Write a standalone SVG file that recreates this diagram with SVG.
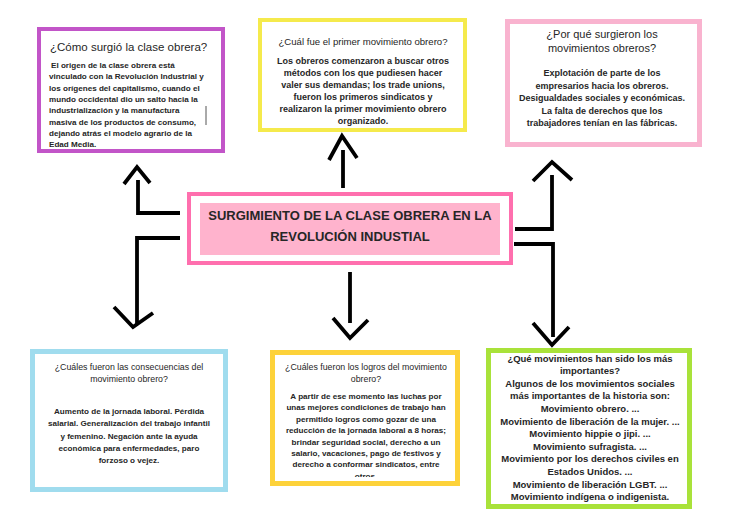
<svg xmlns="http://www.w3.org/2000/svg" width="733" height="528" viewBox="0 0 733 528">
<defs>
<style>
.box{fill:#fff;}
.t{font-family:"Liberation Sans",Arial,sans-serif;fill:#262626;}
.reg{font-weight:normal;}
.b{font-weight:bold;}
.c{text-anchor:middle;}
.arr{fill:none;stroke:#000;stroke-width:3.8;stroke-linejoin:miter;stroke-linecap:butt;}
</style>
<clipPath id="clipOtros"><rect x="270" y="350" width="190" height="127"/></clipPath>
</defs>
<rect width="733" height="528" fill="#fff"/>

<g id="connectors">
<path class="arr" d="M180,213 H138 V180"/>
<path class="arr" d="M124,184 L137,167 L150,183"/>
<path class="arr" d="M180,238 H137 V324"/>
<path class="arr" d="M114,307 L133,327 L153,313"/>
<path class="arr" d="M343,188 V150"/>
<path class="arr" d="M329,160 L342,136 L357,158"/>
<path class="arr" d="M350,272 V323"/>
<path class="arr" d="M333,318 L350,338 L368,320"/>
<path class="arr" d="M515,229 H552 V175"/>
<path class="arr" d="M533,181 L552,162 L572,180"/>
<path class="arr" d="M514,244 H553 V337"/>
<path class="arr" d="M533,323 L552,345 L569,327"/>
</g>

<g id="n-como">
<rect class="box" x="39" y="29" width="184" height="122" stroke="#c255c8" stroke-width="4"/>
<text class="t reg" x="50" y="51" font-size="11.5">¿Cómo surgió la clase obrera?</text>
<g class="t b" font-size="8.1">
<text x="51" y="68">El origen de la clase obrera está</text>
<text x="49" y="79.3">vinculado con la Revolución Industrial y</text>
<text x="49" y="90.6">los orígenes del capitalismo, cuando el</text>
<text x="49" y="101.9">mundo occidental dio un salto hacia la</text>
<text x="49" y="113.2">industrialización y la manufactura</text>
<text x="49" y="124.5">masiva de los productos de consumo,</text>
<text x="49" y="135.8">dejando atrás el modelo agrario de la</text>
<text x="49" y="147">Edad Media.</text>
</g>
<line x1="206" y1="106" x2="206" y2="125" stroke="#555" stroke-width="1"/>
</g>

<g id="n-primer">
<rect class="box" x="260" y="20" width="205" height="110" stroke="#f5ea4c" stroke-width="4"/>
<text class="t reg c" x="363" y="44.5" font-size="9.6">¿Cuál fue el primer movimiento obrero?</text>
<g class="t b c" font-size="9">
<text x="363" y="64">Los obreros comenzaron a buscar otros</text>
<text x="363" y="76">métodos con los que pudiesen hacer</text>
<text x="363" y="88">valer sus demandas; los trade unions,</text>
<text x="363" y="100">fueron los primeros sindicatos y</text>
<text x="363" y="112">realizaron la primer movimiento obrero</text>
<text x="363" y="124">organizado.</text>
</g>
</g>

<g id="n-porque">
<rect class="box" x="507.5" y="21.5" width="192" height="123" stroke="#f9b3cf" stroke-width="5"/>
<text class="t reg c" x="602" y="37.5" font-size="11">¿Por qué surgieron los</text>
<text class="t reg c" x="602" y="52" font-size="11">movimientos obreros?</text>
<g class="t b c" font-size="9">
<text x="602" y="76">Explotación de parte de los</text>
<text x="602" y="88.5">empresarios hacia los obreros.</text>
<text x="602" y="101">Desigualdades sociales y económicas.</text>
<text x="602" y="113.5">La falta de derechos que los</text>
<text x="602" y="126">trabajadores tenían en las fábricas.</text>
</g>
</g>

<g id="n-centro">
<rect class="box" x="189" y="194" width="322" height="69" stroke="#ff6fae" stroke-width="4"/>
<rect x="200" y="203" width="300" height="52" fill="#ffb3cd"/>
<text class="t b c" x="350" y="219.5" font-size="13" fill="#333">SURGIMIENTO DE LA CLASE OBRERA EN LA</text>
<text class="t b c" x="350" y="240.5" font-size="13" fill="#333">REVOLUCIÓN INDUSTIAL</text>
</g>

<g id="n-consecuencias">
<rect class="box" x="32.5" y="351.5" width="193" height="138" stroke="#a0dcee" stroke-width="5"/>
<text class="t reg c" x="129" y="370" font-size="8.8">¿Cuáles fueron las consecuencias del</text>
<text class="t reg c" x="129" y="382" font-size="8.8">movimiento obrero?</text>
<g class="t b c" font-size="8.1">
<text x="129" y="414">Aumento de la jornada laboral. Pérdida</text>
<text x="129" y="426.3">salarial. Generalización del trabajo infantil</text>
<text x="129" y="438.6">y femenino. Negación ante la ayuda</text>
<text x="129" y="450.9">económica para enfermedades, paro</text>
<text x="129" y="463.2">forzoso o vejez.</text>
</g>
</g>

<g id="n-logros">
<rect class="box" x="272.5" y="352.5" width="185" height="131" stroke="#fdd23a" stroke-width="5"/>
<text class="t reg c" x="366" y="369.5" font-size="8.8">¿Cuáles fueron los logros del movimiento</text>
<text class="t reg c" x="366" y="381.5" font-size="8.8">obrero?</text>
<g class="t b c" font-size="8.1">
<text x="366" y="399">A partir de ese momento las luchas por</text>
<text x="366" y="410.4">unas mejores condiciones de trabajo han</text>
<text x="366" y="421.8">permitido logros como gozar de una</text>
<text x="366" y="433.2">reducción de la jornada laboral a 8 horas;</text>
<text x="366" y="444.6">brindar seguridad social, derecho a un</text>
<text x="366" y="456">salario, vacaciones, pago de festivos y</text>
<text x="366" y="467.4">derecho a conformar sindicatos, entre</text>
<text x="366" y="478.8" clip-path="url(#clipOtros)">otros.</text>
</g>
</g>

<g id="n-movimientos">
<rect class="box" x="488.5" y="350.5" width="201" height="156" stroke="#a9e23a" stroke-width="5"/>
<g class="t b c" font-size="9.5">
<text x="590" y="361.5">¿Qué movimientos han sido los más</text>
<text x="590" y="374.1">importantes?</text>
<text x="590" y="386.7">Algunos de los movimientos sociales</text>
<text x="590" y="399.3">más importantes de la historia son:</text>
<text x="590" y="411.9">Movimiento obrero. ...</text>
<text x="590" y="424.5">Movimiento de liberación de la mujer. ...</text>
<text x="590" y="437.1">Movimiento hippie o jipi. ...</text>
<text x="590" y="449.7">Movimiento sufragista. ...</text>
<text x="590" y="462.3">Movimiento por los derechos civiles en</text>
<text x="590" y="474.9">Estados Unidos. ...</text>
<text x="590" y="487.5">Movimiento de liberación LGBT. ...</text>
<text x="590" y="500.1">Movimiento indígena o indigenista.</text>
</g>
</g>
</svg>
